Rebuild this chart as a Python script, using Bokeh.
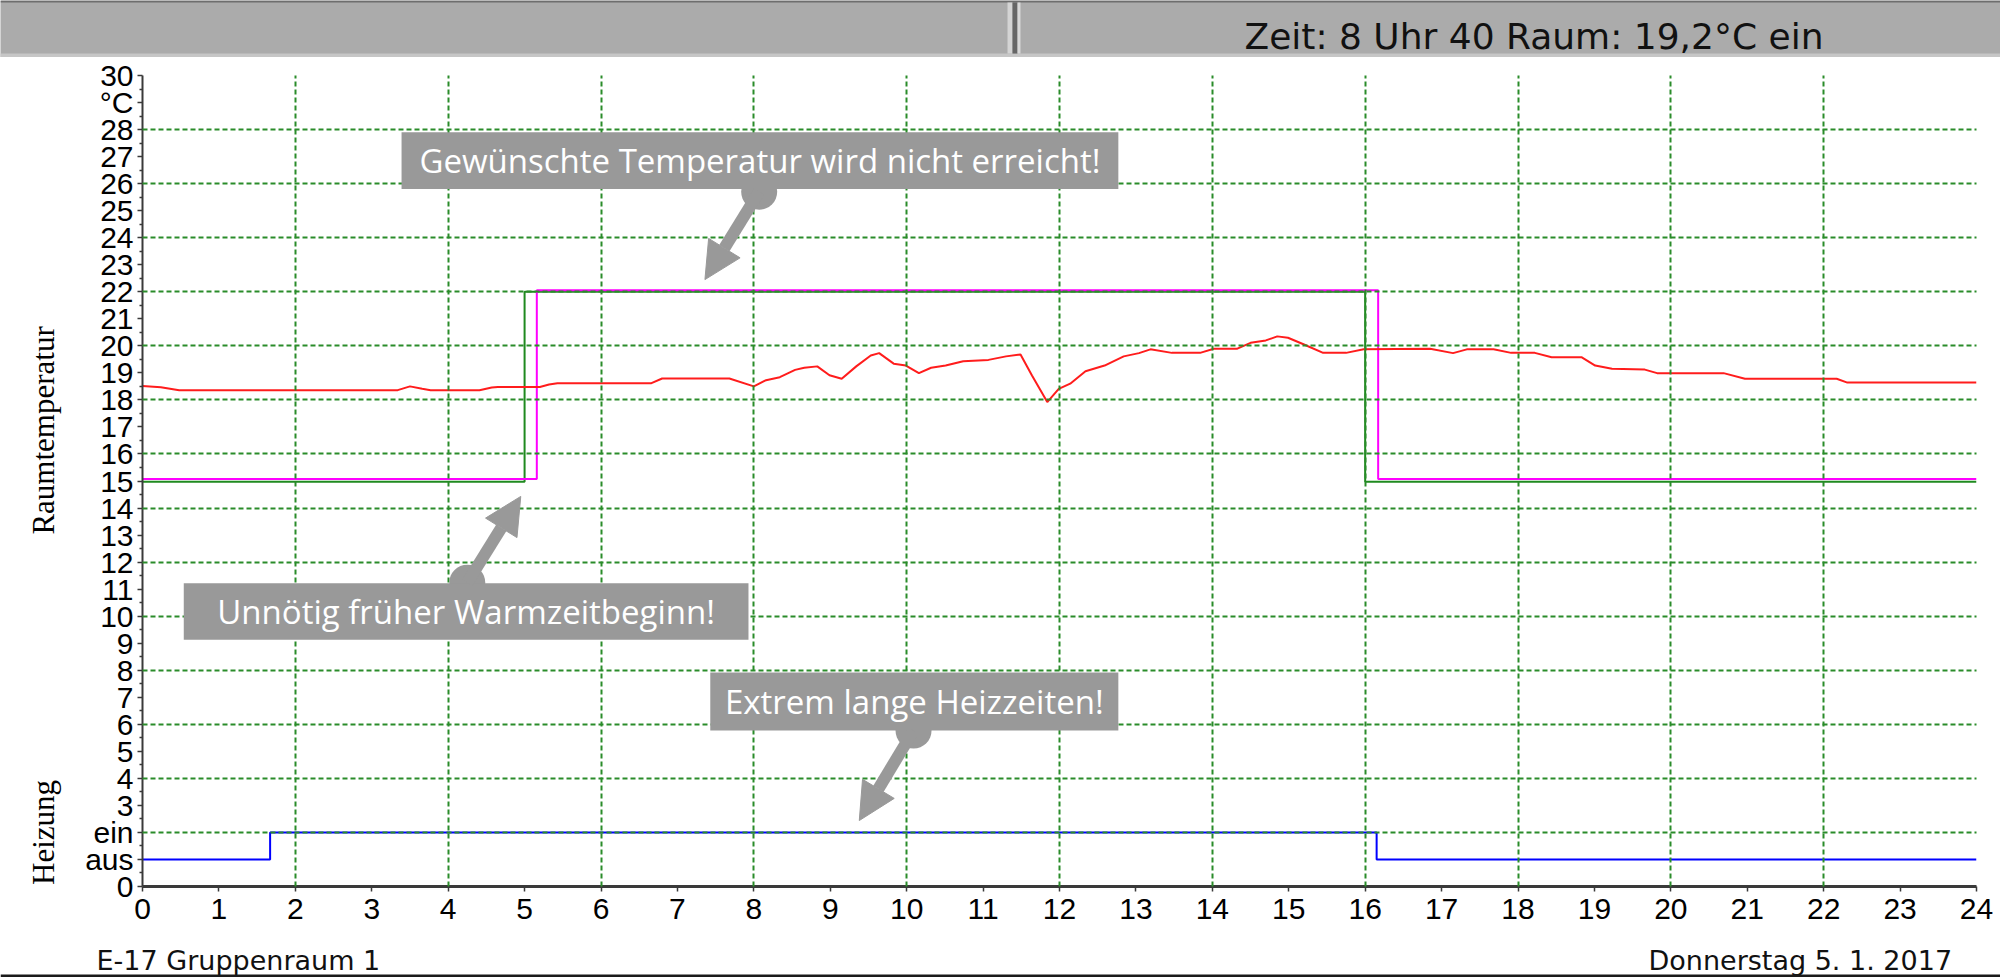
import math
from bokeh.plotting import figure
from bokeh.layouts import row
from bokeh.models import FixedTicker, Arrow, NormalHead, Range1d
from bokeh.embed import file_html
from bokeh.resources import INLINE
from bokeh.core.properties import value

# ---------------- data ----------------
status_text = "Zeit:  8 Uhr 40  Raum: 19,2°C ein"
room_name = "E-17 Gruppenraum 1"
date_text = "Donnerstag  5. 1. 2017"
title_temp = "Raumtemperatur"
title_heat = "Heizung"

x_ticks = list(range(0, 25))
y_ticks = list(range(0, 31))
y_label_overrides = {1: "aus", 2: "ein", 29: "°C"}

# measured room temperature (hours, °C)
temp_hours = [0, 0.24, 0.48, 3.34, 3.50, 3.66, 3.77, 4.41, 4.57, 4.65, 5.20, 5.32, 5.43,
              6.66, 6.80, 7.68, 8.00, 8.16, 8.34, 8.54, 8.66, 8.83, 8.99, 9.15, 9.34,
              9.53, 9.64, 9.83, 9.99, 10.16, 10.32, 10.51, 10.74, 11.07, 11.30, 11.49,
              11.64, 11.84, 11.99, 12.14, 12.34, 12.59, 12.84, 13.04, 13.19, 13.47,
              13.84, 14.02, 14.32, 14.50, 14.70, 14.85, 14.99, 15.20, 15.45, 15.75,
              15.98, 16.85, 17.15, 17.33, 17.68, 17.91, 18.22, 18.44, 18.83, 19.01,
              19.23, 19.66, 19.82, 20.69, 20.97, 22.17, 22.31, 24.0]
temp_values = [18.51, 18.47, 18.36, 18.36, 18.50, 18.41, 18.36, 18.36, 18.46, 18.48, 18.48,
               18.57, 18.62, 18.62, 18.79, 18.79, 18.50, 18.73, 18.84, 19.11, 19.19, 19.24,
               18.91, 18.78, 19.24, 19.64, 19.73, 19.34, 19.27, 18.99, 19.19, 19.27, 19.43,
               19.48, 19.61, 19.68, 18.90, 17.92, 18.41, 18.60, 19.06, 19.27, 19.61, 19.73,
               19.87, 19.74, 19.74, 19.89, 19.89, 20.11, 20.20, 20.35, 20.30, 20.05, 19.74,
               19.74, 19.87, 19.89, 19.73, 19.87, 19.87, 19.74, 19.74, 19.58, 19.58, 19.27,
               19.15, 19.12, 18.99, 18.99, 18.78, 18.78, 18.64, 18.64]

# setpoint schedule (green)
set_hours = [0, 5.0, 5.0, 16.0, 16.0, 24]
set_values = [14.97, 14.97, 22.0, 22.0, 14.97, 14.97]
# effective setpoint (magenta)
eff_hours = [0, 5.16, 5.16, 16.17, 16.17, 24]
eff_values = [15.07, 15.07, 22.06, 22.06, 15.07, 15.07]
# heating state (blue): 1 = aus, 2 = ein
heat_hours = [0, 1.67, 1.67, 16.15, 16.15, 24]
heat_values = [1, 1, 2, 2, 1, 1]

# callouts
note_texts = ["Gewünschte Temperatur wird nicht erreicht!",
              "Unnötig früher Warmzeitbeginn!",
              "Extrem lange Heizzeiten!"]
note_left = [3.39, 0.54, 7.43]
note_right = [12.77, 7.93, 12.77]
note_bottom = [25.80, 9.13, 5.77]
note_top = [27.90, 11.22, 7.92]
dot_x = [8.07, 4.25, 10.09]
dot_y = [25.70, 11.24, 5.77]
tip_x = [7.36, 4.95, 9.38]
tip_y = [22.45, 14.43, 2.44]

# ---------------- layout ----------------
W = 2000
TOP_H = 57
BOT_H = 43
MAIN_H = 977 - TOP_H - BOT_H
LEFT_W = 70
BORDER_TOP = 18
BORDER_BOTTOM = MAIN_H - BORDER_TOP - 811
GRAY = "#ababab"
NOTE = "#999999"

# ---- top status bar ----
top = figure(width=W, height=TOP_H, x_range=Range1d(0, W), y_range=Range1d(0, TOP_H),
             output_backend="svg", toolbar_location=None, min_border=0,
             x_axis_type=None, y_axis_type=None)
top.grid.visible = False
top.outline_line_color = None
top.background_fill_color = GRAY
top.border_fill_color = GRAY
top.quad(left=[0], right=[W], bottom=[TOP_H - 2], top=[TOP_H], fill_color="#6e6e6e", line_color=None)
top.quad(left=[0], right=[W], bottom=[0], top=[4], fill_color="#c6c6c6", line_color=None)
top.quad(left=[1007], right=[1012], bottom=[4], top=[TOP_H - 2], fill_color="#d4d4d4", line_color=None)
top.quad(left=[1012], right=[1017], bottom=[4], top=[TOP_H - 2], fill_color="#666666", line_color=None)
top.quad(left=[1017], right=[1020], bottom=[4], top=[TOP_H - 2], fill_color="#d8d8d8", line_color=None)
top.text(x=[1244], y=[21], text=[status_text], text_font=value("DejaVu Sans"),
         text_font_size="36px", text_color="#111111", text_align="left",
         text_baseline="alphabetic")

# ---- main chart ----
p = figure(width=W - LEFT_W, height=MAIN_H, x_range=Range1d(0, 24), y_range=Range1d(0, 30),
           output_backend="svg", toolbar_location=None,
           min_border_left=142 - LEFT_W, min_border_right=24, min_border_top=BORDER_TOP,
           min_border_bottom=BORDER_BOTTOM)
p.outline_line_color = None
p.background_fill_color = "white"

p.yaxis.ticker = FixedTicker(ticks=y_ticks, minor_ticks=[t + 0.5 for t in y_ticks[:-1]])
p.yaxis.major_label_overrides = y_label_overrides
p.xaxis.ticker = FixedTicker(ticks=x_ticks, minor_ticks=[])
for ax in (p.xaxis[0], p.yaxis[0]):
    ax.major_label_text_font = "Liberation Sans"
    ax.major_label_text_font_size = "30px"
    ax.major_label_text_color = "black"
    ax.axis_line_color = "#3a3a3a"
    ax.major_tick_line_color = "#3a3a3a"
    ax.minor_tick_line_color = "#3a3a3a"
    ax.major_tick_in = 0
    ax.major_tick_out = 5
    ax.minor_tick_in = 0
    ax.minor_tick_out = 3
    ax.major_tick_line_width = 1.5
    ax.minor_tick_line_width = 1.5
p.yaxis.axis_line_width = 2
p.xaxis.axis_line_width = 3
p.yaxis.major_label_standoff = 4
p.xaxis.major_label_standoff = 7

p.xgrid.ticker = FixedTicker(ticks=list(range(2, 25, 2)))
p.ygrid.ticker = FixedTicker(ticks=list(range(2, 31, 2)))
p.grid.grid_line_color = "#2a8c2a"
p.grid.grid_line_dash = "5 3"
p.grid.grid_line_width = 2
p.grid.level = "annotation"

p.line(set_hours, set_values, line_color="#1f8a1f", line_width=2)
p.line(eff_hours, eff_values, line_color="#ff00ff", line_width=2)
p.line(temp_hours, temp_values, line_color="#ff1c1c", line_width=2)
p.line(heat_hours, heat_values, line_color="#0000ff", line_width=2)

# callouts
p.scatter(dot_x, dot_y, size=36, marker="circle", fill_color=NOTE, line_color=None, level="overlay")
for i in range(3):
    p.add_layout(Arrow(x_start=dot_x[i], y_start=dot_y[i], x_end=tip_x[i], y_end=tip_y[i],
                       line_color=NOTE, line_width=12,
                       end=NormalHead(size=37, fill_color=NOTE, line_color=NOTE, line_width=1),
                       level="overlay"))
p.quad(left=note_left, right=note_right, bottom=note_bottom, top=note_top,
       fill_color=NOTE, line_color=None, level="overlay")
p.text(x=[(l + r) / 2 for l, r in zip(note_left, note_right)],
       y=[(b + t) / 2 for b, t in zip(note_bottom, note_top)],
       text=note_texts, text_font=value("Open Sans"), text_font_size="33px",
       text_color="white", text_align="center", text_baseline="middle", level="overlay")

# ---- left strip with the rotated axis titles ----
side = figure(width=LEFT_W, height=MAIN_H, x_range=Range1d(0, LEFT_W), y_range=p.y_range,
              output_backend="svg", toolbar_location=None,
              min_border_left=0, min_border_right=0, min_border_top=BORDER_TOP,
              min_border_bottom=BORDER_BOTTOM, x_axis_type=None, y_axis_type=None)
side.grid.visible = False
side.outline_line_color = None
side.text(x=[43, 43], y=[16.87, 2.0], text=[title_temp, title_heat], angle=math.pi / 2,
          text_font=value("Liberation Serif"), text_font_size="31px", text_color="black",
          text_align="center", text_baseline="alphabetic")

middle = row(side, p, spacing=0)

# ---- bottom strip ----
bot = figure(width=W, height=BOT_H, x_range=Range1d(0, W), y_range=Range1d(0, BOT_H),
             output_backend="svg", toolbar_location=None, min_border=0,
             x_axis_type=None, y_axis_type=None)
bot.grid.visible = False
bot.outline_line_color = None
bot.text(x=[96, 1648], y=[17, 17], text=[room_name, date_text],
         text_font=value("DejaVu Sans"), text_font_size="27px", text_color="#111111",
         text_align="left", text_baseline="alphabetic")
bot.quad(left=[0], right=[W], bottom=[0], top=[3], fill_color="#1a1a1a", line_color=None)

open("out.html", "w").write(file_html([top, middle, bot], INLINE))
